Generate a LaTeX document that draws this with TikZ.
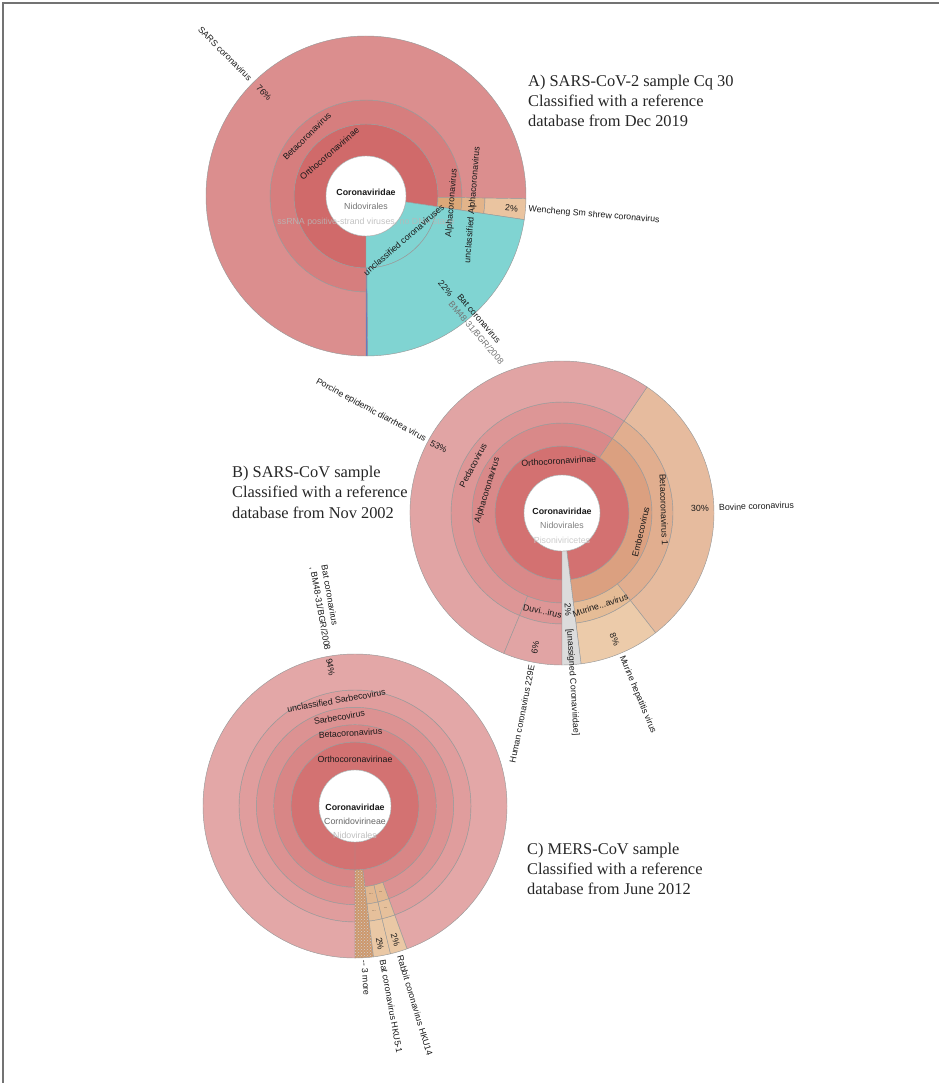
\documentclass[tikz,border=0pt]{standalone}
\usepackage{fontspec}
\setmainfont{Liberation Serif}
\newfontfamily\ksans{Liberation Sans}
\usetikzlibrary{patterns}
\definecolor{aPink}{RGB}{219,142,142}
\definecolor{aBeta}{RGB}{214,126,126}
\definecolor{aOrtho}{RGB}{208,106,106}
\definecolor{aTeal}{RGB}{128,212,210}
\definecolor{aTanA}{RGB}{220,168,120}
\definecolor{aTanB}{RGB}{226,180,138}
\definecolor{aTanC}{RGB}{234,196,160}
\definecolor{aBlue}{RGB}{90,120,200}
\definecolor{bOut}{RGB}{225,164,164}
\definecolor{bR3}{RGB}{221,150,150}
\definecolor{bR2}{RGB}{217,137,137}
\definecolor{bOrtho}{RGB}{211,113,113}
\definecolor{bTan2}{RGB}{219,160,128}
\definecolor{bTan3}{RGB}{225,174,143}
\definecolor{bTanOut}{RGB}{230,187,158}
\definecolor{bMur3}{RGB}{229,188,150}
\definecolor{bMurOut}{RGB}{236,203,170}
\definecolor{bGray}{RGB}{220,220,220}
\definecolor{cOut}{RGB}{227,167,167}
\definecolor{cR4}{RGB}{224,157,157}
\definecolor{cR3}{RGB}{220,146,146}
\definecolor{cR2}{RGB}{216,134,134}
\definecolor{cOrtho}{RGB}{211,114,114}
\definecolor{cMore}{RGB}{205,152,108}
\definecolor{cTan3}{RGB}{226,184,145}
\definecolor{cTan4}{RGB}{230,192,155}
\definecolor{cTanOut}{RGB}{234,200,165}
\newcommand\kseg[5]{\filldraw[kline,fill=#1] (#2:#4pt) arc[start angle=#2,end angle=#3,radius=#4pt] -- (#3:#5pt) arc[start angle=#3,end angle=#2,radius=#5pt] -- cycle;}
\begin{document}
\begin{tikzpicture}[x=1pt,y=1pt,
  kline/.style={draw=black!40,line width=0.45pt},
  lbl/.style={font=\ksans\fontsize{8.8}{11.5}\selectfont, inner sep=0pt, text=black!90},
  boldlbl/.style={lbl, font=\ksans\bfseries\fontsize{8.8}{10}\selectfont},
  kdots/.style={font=\ksans\fontsize{4}{4}\selectfont, inner sep=0pt},
  captxt/.style={font=\fontsize{16.4}{20}\selectfont, inner sep=0pt, anchor=base west, text=black!85}]
\useasboundingbox (0,-1083) rectangle (939,0);
\draw[black!55,line width=1.4pt] (3,-1083) -- (3,-3) -- (939,-3);

% ---------------- chart A ----------------
\begin{scope}[shift={(366,-196)}]
\coordinate (cA) at (0,0);
\kseg{aOrtho}{-8.5}{270}{40}{72}
\kseg{aBeta}{-1}{270}{72}{96}
\kseg{aPink}{-1}{270}{96}{160}
\kseg{aTanA}{-8.5}{-1}{72}{96}
\kseg{aTanB}{-8.5}{-1}{96}{119}
\kseg{aTanC}{-8.5}{-1}{119}{160}
\kseg{aTeal}{-90}{-8.5}{40}{72}
\kseg{aTeal}{-89.4}{-8.5}{72}{160}
\kseg{aBlue}{-90}{-89.4}{72}{160}
\filldraw[fill=white,draw=black!30] (cA) circle[radius=40pt];
\node[lbl,rotate=-45.25,anchor=east] (aSars) at (134.75:164pt) {SARS coronavirus};
\node[lbl,rotate=-45.25] (aSarsP) at (134.75:145pt) {76\%};
\node[lbl,rotate=44.75] (aBetaL) at (134.75:84pt) {Betacoronavirus};
\node[lbl,rotate=40.75] (aOrthoL) at (130.75:56pt) {Orthocoronavirinae};
\node[boldlbl] (aRoot) at (0,4) {Coronaviridae};
\node[lbl,text=black!55] (aNido) at (0,-10) {Nidovirales};
\node[lbl,text=black!28,text opacity=0.85] (aSs) at (0,-26) {ssRNA positive-strand viruses, no DNA stage};
\node[lbl,rotate=40.75] (aUnc) at (-49.25:58pt) {unclassified coronaviruses};
\node[lbl,rotate=85.25] (aAlpha) at (-4.75:86pt) {Alphacoronavirus};
\node[lbl,rotate=85.25] (aUAlpha) at (-4.75:107pt) {unclassified Alphacoronavirus};
\node[lbl,rotate=-4.75] (aWenP) at (-4.75:146pt) {2\%};
\node[lbl,rotate=-4.75,anchor=west] (aWen) at (-4.75:163pt) {Wencheng Sm shrew coronavirus};
\node[lbl,rotate=-49.25] (aBatP) at (-49.25:122pt) {22\%};
\node[lbl,rotate=-49.25,anchor=west,align=left] (aBat) at (-49.25:136pt) {Bat coronavirus\\\textcolor{black!55}{BM48-31/BGR/2008}};
\end{scope}

% ---------------- chart B ----------------
\begin{scope}[shift={(562,-513)}]
\coordinate (cB) at (0,0);
\kseg{bOrtho}{-82.8}{270}{38}{67}
\kseg{bTan2}{-82.8}{56}{67}{90}
\kseg{bTan3}{-52}{56}{90}{111}
\kseg{bTanOut}{-52}{56}{111}{152}
\kseg{bMur3}{-82.8}{-52}{90}{111}
\kseg{bMurOut}{-82.8}{-52}{111}{152}
\kseg{bR2}{56}{270}{67}{90}
\kseg{bR3}{56}{247.5}{90}{111}
\kseg{bOut}{56}{247.5}{111}{152}
\kseg{bR3}{247.5}{270}{90}{111}
\kseg{bOut}{247.5}{270}{111}{152}
\kseg{bGray}{-90}{-82.8}{38}{152}
\filldraw[fill=white,draw=black!30] (cB) circle[radius=38pt];
\node[lbl,rotate=-28.25,anchor=east] (bPedv) at (151.75:155pt) {Porcine epidemic diarrhea virus};
\node[lbl,rotate=-28.25] (bPedvP) at (151.75:140pt) {53\%};
\node[lbl,rotate=61.75] (bPeda) at (151.75:101pt) {Pedacovirus};
\node[lbl,rotate=73] (bAlpha) at (163:78pt) {Alphacoronavirus};
\node[lbl,rotate=3.6] (bOrthoL) at (93.6:52pt) {Orthocoronavirinae};
\node[boldlbl] (bRoot) at (0,2) {Coronaviridae};
\node[lbl,text=black!50] (bNido) at (0,-12) {Nidovirales};
\node[lbl,text=black!20] (bPiso) at (0,-27) {Pisoniviricetes};
\node[lbl,rotate=76.6] (bEmbe) at (-13.4:81pt) {Embecovirus};
\node[lbl,rotate=-88] (bBeta1) at (2:102pt) {Betacoronavirus 1};
\node[lbl,rotate=2] (bBovP) at (2:138pt) {30\%};
\node[lbl,rotate=2,anchor=west] (bBov) at (2:157pt) {Bovine coronavirus};
\node[lbl,rotate=18] (bMur) at (-67.4:100pt) {Murine...avirus};
\node[lbl,rotate=-67.4] (bMurP) at (-67.4:137pt) {8\%};
\node[lbl,rotate=-67.4,anchor=west] (bMhv) at (-67.4:155pt) {Murine hepatitis virus};
\node[lbl,rotate=-86.4] (bUnaP) at (-86.4:97pt) {2\%};
\node[lbl,rotate=-86.4,anchor=west] (bUna) at (-86.4:116pt) {[unassigned Coronaviridae]};
\node[lbl,rotate=-11.25] (bDuvi) at (258.75:100pt) {Duvi...irus};
\node[lbl,rotate=78.75] (bHcP) at (258.75:137pt) {6\%};
\node[lbl,rotate=78.75,anchor=east] (bHc) at (258.75:155pt) {Human coronavirus 229E};
\end{scope}

% ---------------- chart C ----------------
\begin{scope}[shift={(355,-806)}]
\coordinate (cC) at (0,0);
\kseg{cOrtho}{-90}{270}{36}{64}
\kseg{cR2}{-83}{270}{64}{81.3}
\kseg{cR3}{-70}{270}{81.3}{98.7}
\kseg{cR4}{-70}{270}{98.7}{116}
\kseg{cOut}{-70}{270}{116}{152}
\kseg{cMore}{-90}{-83}{64}{152}
\fill[pattern=crosshatch dots,pattern color=black!18] (-90:64pt) arc[start angle=-90,end angle=-83,radius=64pt] -- (-83:152pt) arc[start angle=-83,end angle=-90,radius=152pt] -- cycle;
\kseg{cTan3}{-83}{-76.5}{81.3}{98.7}
\kseg{cTan4}{-83}{-76.5}{98.7}{116}
\kseg{cTanOut}{-83}{-76.5}{116}{152}
\kseg{cTan3}{-76.5}{-70}{81.3}{98.7}
\kseg{cTan4}{-76.5}{-70}{98.7}{116}
\kseg{cTanOut}{-76.5}{-70}{116}{152}
\filldraw[fill=white,draw=black!30] (cC) circle[radius=36pt];
\node[lbl,rotate=-80,anchor=east,align=left] (cBat) at (98:158pt) {Bat coronavirus\\, BM48-31/BGR/2008};
\node[lbl,rotate=-80] (cBatP) at (100:141pt) {94\%};
\node[lbl,rotate=10] (cUSarb) at (100:107pt) {unclassified Sarbecovirus};
\node[lbl,rotate=10] (cSarb) at (100:90pt) {Sarbecovirus};
\node[lbl,rotate=3.5] (cBetaL) at (93.5:73pt) {Betacoronavirus};
\node[lbl] (cOrthoL) at (90:47pt) {Orthocoronavirinae};
\node[boldlbl] (cRoot) at (0,-1) {Coronaviridae};
\node[lbl,text=black!60] (cCorn) at (0,-15) {Cornidovirineae};
\node[lbl,text=black!25] (cNido) at (0,-29) {Nidovirales};
\node[kdots] (cD1) at (-79.75:90pt) {...};
\node[kdots] (cD2) at (-79.75:107pt) {...};
\node[kdots] (cD3) at (-73.25:90pt) {...};
\node[kdots] (cD4) at (-73.25:107pt) {...};
\node[lbl,rotate=-79.75] (cP1) at (-79.75:140pt) {2\%};
\node[lbl,rotate=-73.25] (cP2) at (-73.25:140pt) {2\%};
\node[lbl,rotate=-86.5,anchor=west] (cMoreL) at (-86.5:154pt) {-- 3 more};
\node[lbl,rotate=-79.75,anchor=west] (cHku5) at (-79.75:156pt) {Bat coronavirus HKU5-1};
\node[lbl,rotate=-73.25,anchor=west] (cHku14) at (-73.25:156pt) {Rabbit coronavirus HKU14};
\end{scope}

% ---------------- captions ----------------
\node[captxt] (capA1) at (528,-87) {A) SARS-CoV-2 sample Cq 30};
\node[captxt] (capA2) at (528,-107) {Classified with a reference};
\node[captxt] (capA3) at (528,-127) {database from Dec 2019};
\node[captxt] (capB1) at (232,-477) {B) SARS-CoV sample};
\node[captxt] (capB2) at (232,-497.5) {Classified with a reference};
\node[captxt] (capB3) at (232,-518) {database from Nov 2002};
\node[captxt] (capC1) at (527,-854) {C) MERS-CoV sample};
\node[captxt] (capC2) at (527,-874) {Classified with a reference};
\node[captxt] (capC3) at (527,-894) {database from June 2012};
\end{tikzpicture}
\end{document}
